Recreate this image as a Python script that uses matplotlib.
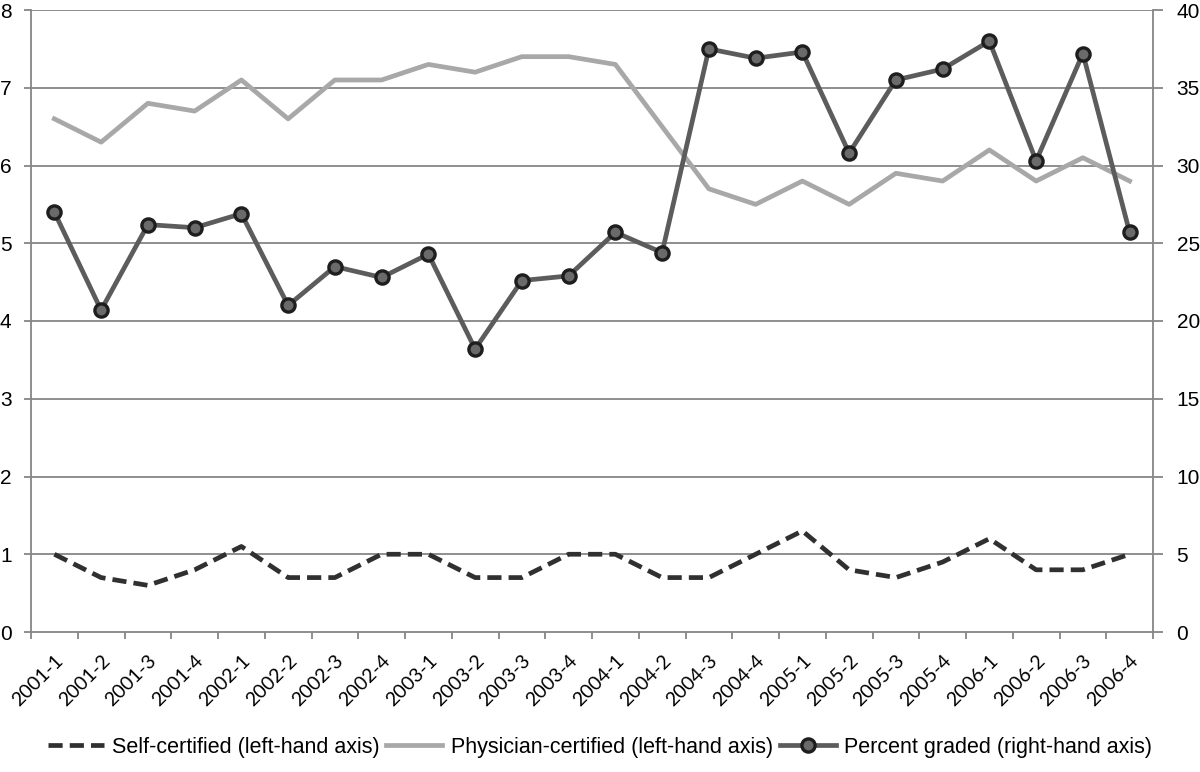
import matplotlib
matplotlib.use("Agg")
import matplotlib.pyplot as plt
from matplotlib.lines import Line2D
import numpy as np

categories = ["2001-1", "2001-2", "2001-3", "2001-4", "2002-1", "2002-2", "2002-3", "2002-4",
              "2003-1", "2003-2", "2003-3", "2003-4", "2004-1", "2004-2", "2004-3", "2004-4",
              "2005-1", "2005-2", "2005-3", "2005-4", "2006-1", "2006-2", "2006-3", "2006-4"]
self_certified = [1.0, 0.7, 0.6, 0.8, 1.1, 0.7, 0.7, 1.0, 1.0, 0.7, 0.7, 1.0,
                  1.0, 0.7, 0.7, 1.0, 1.3, 0.8, 0.7, 0.9, 1.2, 0.8, 0.8, 1.0]
physician_certified = [6.6, 6.3, 6.8, 6.7, 7.1, 6.6, 7.1, 7.1, 7.3, 7.2, 7.4, 7.4,
                       7.3, 6.5, 5.7, 5.5, 5.8, 5.5, 5.9, 5.8, 6.2, 5.8, 6.1, 5.8]
percent_graded = [27.0, 20.7, 26.2, 26.0, 26.9, 21.0, 23.5, 22.8, 24.3, 18.2, 22.6, 22.9,
                  25.7, 24.4, 37.5, 36.9, 37.3, 30.8, 35.5, 36.2, 38.0, 30.3, 37.2, 25.7]
left_ticks = [0, 1, 2, 3, 4, 5, 6, 7, 8]
right_ticks = [0, 5, 10, 15, 20, 25, 30, 35, 40]

plt.rcParams['font.family'] = ['Liberation Sans', 'DejaVu Sans']

fig = plt.figure(figsize=(12, 7.72), dpi=100)
ax = fig.add_axes([31/1200, 1 - 632/772, (1153 - 31)/1200, (632 - 10)/772])
ax2 = ax.twinx()

x = np.arange(len(categories))
grid_c = "#868686"

ax.set_ylim(0, 8)
ax2.set_ylim(0, 40)
ax.set_xlim(-0.5, len(categories) - 0.5)

for v in left_ticks[1:]:
    ax.axhline(v, color=grid_c, lw=1.3, zorder=0)

ax.plot(x, self_certified, color="#303030", lw=3.4, ls=(0, (3.0, 1.5)), zorder=3)
ax.plot(x, physician_certified, color="#a8a8a8", lw=3.4, zorder=3)
ax2.plot(x, percent_graded, color="#5c5c5c", lw=3.4, zorder=3,
         marker='o', ms=9.5, mfc="#6a6a6a", mec="#1e1e1e", mew=2.4)

ax.set_yticks(left_ticks)
ax.set_yticklabels([str(v) for v in left_ticks], fontsize=15)
ax2.set_yticks(right_ticks)
ax2.set_yticklabels([str(v) for v in right_ticks], fontsize=15)

ax.set_xticks(np.arange(-0.5, len(categories), 1.0))
ax.set_xticklabels([])
ax.set_xticks(x, minor=True)
ax.set_xticklabels(categories, minor=True, rotation=45, ha='right', rotation_mode='anchor',
                   fontsize=14, family=['Lato', 'DejaVu Sans'])
ax.tick_params(axis='x', which='major', length=5, width=1.3, color=grid_c, direction='out')
ax.tick_params(axis='x', which='minor', length=0, pad=14)
ax.tick_params(axis='y', length=5, width=1.3, color=grid_c, pad=9)
ax2.tick_params(axis='y', length=7, width=1.3, color=grid_c, pad=10)

for a in (ax, ax2):
    for s in a.spines.values():
        s.set_visible(False)
ax.spines['left'].set_visible(True)
ax.spines['left'].set_color(grid_c)
ax.spines['left'].set_linewidth(1.3)
ax.spines['bottom'].set_visible(True)
ax.spines['bottom'].set_color(grid_c)
ax.spines['bottom'].set_linewidth(1.3)
ax2.spines['right'].set_visible(True)
ax2.spines['right'].set_color(grid_c)
ax2.spines['right'].set_linewidth(1.3)

handles = [
    Line2D([], [], color="#303030", lw=3.4, ls=(0, (3.0, 1.5))),
    Line2D([], [], color="#a8a8a8", lw=3.4),
    Line2D([], [], color="#5c5c5c", lw=3.4, marker='o', ms=9.5, mfc="#6a6a6a", mec="#1e1e1e", mew=2.4),
]
labels = ["Self-certified (left-hand axis)", "Physician-certified (left-hand axis)",
          "Percent graded (right-hand axis)"]
fig.legend(handles, labels, loc='center', bbox_to_anchor=(0.5, 1 - 747/772), ncol=3,
           frameon=False, fontsize=15.5, handlelength=2.6, handletextpad=0.4,
           columnspacing=0.3)

fig.savefig("out.png", dpi=100)
